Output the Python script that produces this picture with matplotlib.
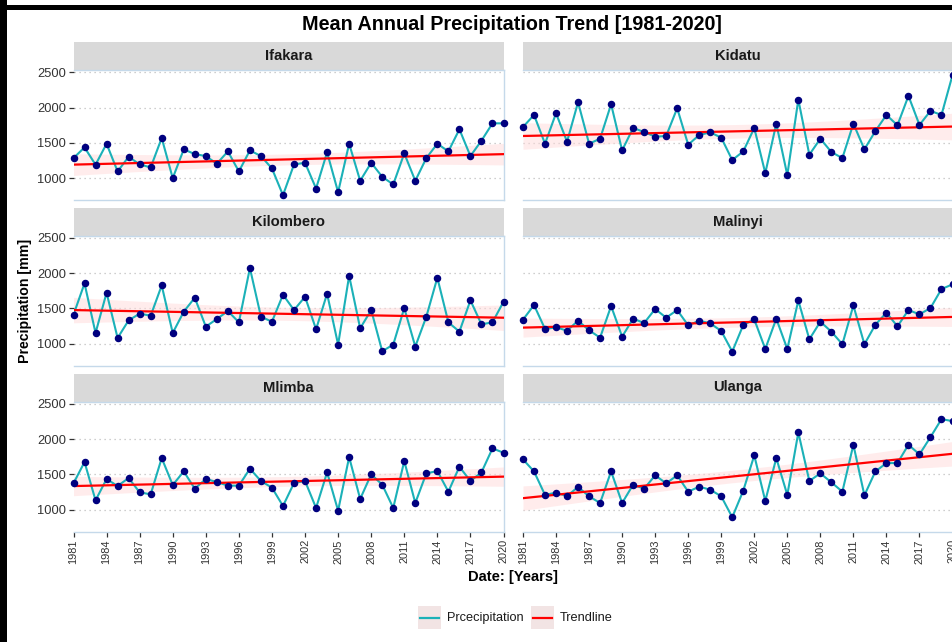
import numpy as np
import matplotlib
matplotlib.use("Agg")
import matplotlib.pyplot as plt
from matplotlib.patches import Rectangle
from matplotlib.lines import Line2D

plt.rcParams['font.family'] = ['Liberation Sans', 'DejaVu Sans']

# ---- data -------------------------------------------------------------
years = np.arange(1981, 2021)

stations = ["Ifakara", "Kidatu", "Kilombero", "Malinyi", "Mlimba", "Ulanga"]

ifakara = [1284, 1436, 1190, 1488, 1095, 1303, 1194, 1152, 1569, 1000,
           1408, 1341, 1313, 1204, 1379, 1095, 1393, 1313, 1137, 758,
           1194, 1218, 853, 1365, 801, 1488, 962, 1218, 1019, 910,
           1351, 962, 1284, 1488, 1379, 1692, 1313, 1531, 1777, 1777]

kidatu = [1725, 1896, 1488, 1920, 1517, 2076, 1488, 1559, 2048, 1393,
          1711, 1654, 1588, 1597, 1991, 1474, 1611, 1649, 1574, 1256,
          1379, 1711, 1071, 1773, 1043, 2114, 1332, 1559, 1370, 1284,
          1773, 1408, 1668, 1896, 1749, 2166, 1754, 1953, 1896, 2460]

kilombero = [1410, 1854, 1151, 1722, 1080, 1330, 1425, 1396, 1825, 1151,
             1453, 1651, 1241, 1349, 1462, 1302, 2071, 1382, 1311, 1693,
             1476, 1665, 1203, 1708, 986, 1962, 1217, 1476, 892, 986,
             1505, 958, 1382, 1934, 1302, 1170, 1613, 1274, 1302, 1594]

malinyi = [1340, 1547, 1208, 1231, 1184, 1325, 1189, 1085, 1533, 1099,
           1354, 1292, 1491, 1368, 1476, 1259, 1325, 1288, 1179, 887,
           1264, 1344, 924, 1354, 924, 1613, 1061, 1311, 1170, 991,
           1542, 991, 1269, 1439, 1245, 1476, 1415, 1505, 1774, 1840]

mlimba = [1373, 1675, 1132, 1434, 1335, 1448, 1245, 1217, 1731, 1349,
          1542, 1297, 1434, 1392, 1340, 1340, 1580, 1406, 1311, 1052,
          1377, 1406, 1024, 1528, 986, 1745, 1151, 1500, 1354, 1024,
          1689, 1094, 1514, 1547, 1255, 1608, 1406, 1528, 1868, 1807]

ulanga = [1712, 1542, 1208, 1241, 1193, 1321, 1189, 1094, 1542, 1094,
          1354, 1297, 1486, 1373, 1486, 1255, 1325, 1283, 1189, 892,
          1269, 1769, 1123, 1731, 1208, 2094, 1406, 1514, 1387, 1255,
          1920, 1203, 1542, 1660, 1660, 1920, 1783, 2028, 2283, 2255]

series = [ifakara, kidatu, kilombero, malinyi, mlimba, ulanga]

y_ticks = [1000, 1500, 2000, 2500]
x_ticks = list(range(1981, 2021, 3))

# ---- styling ----------------------------------------------------------
LINE_C = "#1BB1B8"
POINT_C = "#00007F"
TREND_C = "#FF0000"
BAND_C = "#FFDADA"
STRIP_C = "#D9D9D9"
EDGE_C = "#C5D9EA"
GRID_C = "#BEBEBE"
TICK_C = "#333333"

W, H = 952, 642
fig = plt.figure(figsize=(W / 100, H / 100), dpi=100)
fig.patch.set_facecolor("white")


def rect(x0, y0, x1, y1):
    return [x0 / W, 1 - y1 / H, (x1 - x0) / W, (y1 - y0) / H]


col_x = [(73.5, 503.5), (523.0, 952.5)]
row_y = [(70.0, 200.0), (235.5, 365.5), (401.5, 531.5)]
strip_h = 28.0
YLIM = (690, 2533)
T_CRIT = 2.024  # two-sided 95% t quantile, 38 degrees of freedom

for i, (name, vals) in enumerate(zip(stations, series)):
    r, c = divmod(i, 2)
    x0, x1 = col_x[c]
    y0, y1 = row_y[r]
    vals = np.asarray(vals, dtype=float)

    # strip with station name
    sax = fig.add_axes(rect(x0, y0 - strip_h, x1, y0))
    sax.set_facecolor(STRIP_C)
    sax.set_xticks([]); sax.set_yticks([])
    for s in sax.spines.values():
        s.set_visible(False)
    sax.text(0.5, 0.5, name, ha="center", va="center", fontsize=10.6,
             fontweight="bold", color="#1A1A1A", transform=sax.transAxes)

    ax = fig.add_axes(rect(x0, y0, x1, y1))
    ax.set_xlim(1981, 2020)
    ax.set_ylim(*YLIM)
    for yt in y_ticks:
        ax.axhline(yt, color=GRID_C, lw=0.9, ls=(0, (1, 3)), zorder=0)

    # linear trend with 95% confidence band
    n = len(years)
    slope, intercept = np.polyfit(years, vals, 1)
    fit = intercept + slope * years
    resid = vals - fit
    s_err = np.sqrt(np.sum(resid ** 2) / (n - 2))
    sxx = np.sum((years - years.mean()) ** 2)
    se = s_err * np.sqrt(1.0 / n + (years - years.mean()) ** 2 / sxx)
    ax.fill_between(years, fit - T_CRIT * se, fit + T_CRIT * se,
                    color=BAND_C, alpha=0.5, lw=0, zorder=1)

    ax.plot(years, vals, color=LINE_C, lw=1.5, zorder=2)
    ax.plot(years, fit, color=TREND_C, lw=1.6, zorder=3)
    ax.plot(years, vals, ls="none", marker="o", ms=4.4, color=POINT_C,
            zorder=4, clip_on=False)

    for side, sp in ax.spines.items():
        sp.set_color(EDGE_C)
        sp.set_linewidth(1.0)
    ax.spines["left"].set_visible(False)

    ax.set_yticks(y_ticks)
    ax.set_xticks(x_ticks)
    ax.tick_params(axis="both", length=3.5, width=0.9, color=TICK_C,
                   labelcolor=TICK_C)
    if c == 0:
        ax.set_yticklabels([str(v) for v in y_ticks], fontsize=9.3)
        ax.tick_params(axis="y", pad=2)
    else:
        ax.tick_params(axis="y", length=0, labelleft=False)
    if r == 2:
        ax.set_xticklabels([str(v) for v in x_ticks], rotation=90,
                           fontsize=7.9)
        ax.tick_params(axis="x", pad=2)
    else:
        ax.tick_params(axis="x", length=0, labelbottom=False)

# ---- titles -----------------------------------------------------------
fig.text(512 / W, 1 - 24 / H, "Mean Annual Precipitation Trend [1981-2020]",
         ha="center", va="center", fontsize=14.2, fontweight="bold",
         color="black")
fig.text(25 / W, 1 - 301 / H, "Precipitation [mm]", rotation=90,
         ha="center", va="center", fontsize=10.2, fontweight="bold")
fig.text(513 / W, 1 - 577 / H, "Date: [Years]", ha="center", va="center",
         fontsize=10.6, fontweight="bold")

# ---- legend -----------------------------------------------------------
legend_items = [("Prcecipitation", LINE_C, 418), ("Trendline", TREND_C, 531)]
for label, col, kx in legend_items:
    fig.patches.append(Rectangle((kx / W, 1 - 629 / H), 23 / W, 23 / H,
                                 transform=fig.transFigure,
                                 facecolor="#F2E4E4", edgecolor="none"))
    fig.lines.append(Line2D([(kx + 2) / W, (kx + 21) / W],
                            [1 - 617.5 / H, 1 - 617.5 / H],
                            transform=fig.transFigure, color=col, lw=1.6))
    fig.text((kx + 29) / W, 1 - 618 / H, label, ha="left", va="center",
             fontsize=9.2, color="#1A1A1A")

# ---- outer frame ------------------------------------------------------
fig.patches.append(Rectangle((0, 0), 7 / W, 1, transform=fig.transFigure,
                             facecolor="black", edgecolor="none"))
fig.patches.append(Rectangle((0, 1 - 10 / H), 1, 5 / H,
                             transform=fig.transFigure,
                             facecolor="black", edgecolor="none"))

fig.savefig("out.png", dpi=100, facecolor="white")
